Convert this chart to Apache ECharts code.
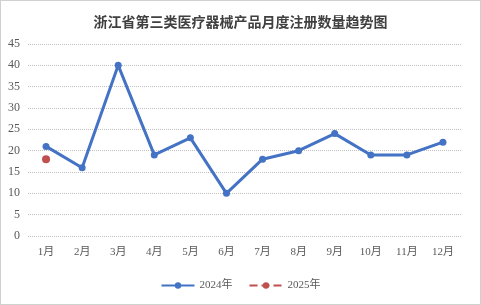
<!DOCTYPE html>
<html><head><meta charset="utf-8">
<script src="https://cdn.jsdelivr.net/npm/echarts@6/dist/echarts.min.js"></script>
<style>html,body{margin:0;padding:0;background:#fff}#c{width:479px;height:303px;border:1px solid #d0d0d0}</style>
</head><body><div id="c"></div>
<script>
const categories = ['1月','2月','3月','4月','5月','6月','7月','8月','9月','10月','11月','12月'];
const series2024 = [21,16,40,19,23,10,18,20,24,19,19,22];
const series2025 = [18,null,null,null,null,null,null,null,null,null,null,null];
const yTicks = {min:0,max:45,interval:5};
const chart = echarts.init(document.getElementById('c'));
chart.setOption({
  animation:false,
  title:{text:'浙江省第三类医疗器械产品月度注册数量趋势图',left:'center',top:9,
    textStyle:{fontFamily:'Noto Sans CJK SC',fontSize:14,fontWeight:'bold',color:'#404040'}},
  grid:{left:27,right:19,top:43,bottom:68},
  legend:{bottom:8,itemGap:16,itemWidth:33,itemHeight:8,
    textStyle:{fontFamily:'Liberation Serif, Noto Sans CJK SC',fontSize:11,color:'#595959'},
    data:['2024年','2025年']},
  xAxis:{type:'category',data:categories,boundaryGap:true,
    axisLine:{show:false},axisTick:{show:false},
    axisLabel:{fontFamily:'Liberation Serif, Noto Sans CJK SC',fontSize:11,color:'#595959',margin:11}},
  yAxis:{type:'value',min:yTicks.min,max:yTicks.max,interval:yTicks.interval,
    axisLine:{show:false},axisTick:{show:false},
    axisLabel:{fontFamily:'Liberation Serif',fontSize:12,color:'#595959',margin:8},
    splitLine:{lineStyle:{color:'#c0c0c0',type:[1,1],width:1}}},
  series:[
    {name:'2024年',type:'line',data:series2024,symbol:'circle',symbolSize:7,
      lineStyle:{color:'#4472C4',width:3},itemStyle:{color:'#4472C4'}},
    {name:'2025年',type:'line',data:series2025,symbol:'circle',symbolSize:8,
      lineStyle:{color:'#C0504D',width:3,type:'dashed'},itemStyle:{color:'#C0504D'}}
  ]
});
</script></body></html>
